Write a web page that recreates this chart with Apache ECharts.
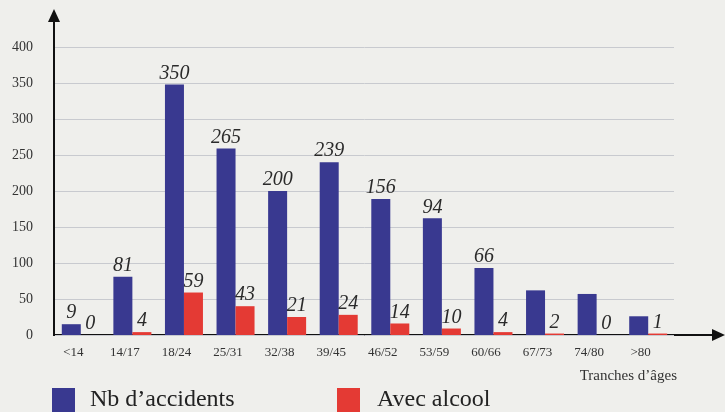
<!DOCTYPE html>
<html>
<head>
<meta charset="utf-8">
<script src="https://cdn.jsdelivr.net/npm/echarts@6/dist/echarts.min.js"></script>
<style>
html,body{margin:0;padding:0;background:#efefec;}
#chart{width:725px;height:412px;}
</style>
</head>
<body>
<div id="chart"></div>
<script>
const categories = ['<14','14/17','18/24','25/31','32/38','39/45','46/52','53/59','60/66','67/73','74/80','>80'];
const accidents = [15, 81, 348, 259, 200, 240, 189, 162, 93, 62, 57, 26];
const alcool = [0, 4, 59, 40, 25, 28, 16, 9, 4, 2, 0, 2];
const accidentsLabels = ['9','81','350','265','200','239','156','94','66','','',''];
const alcoolLabels = ['0','4','59','43','21','24','14','10','4','2','0','1'];
const yTicks = [0, 50, 100, 150, 200, 250, 300, 350, 400];

const serif = '"Liberation Serif","DejaVu Serif",serif';
const chart = echarts.init(document.getElementById('chart'));
const barLabel = (arr) => ({
  show: true, position: 'top', distance: 1,
  fontFamily: serif, fontStyle: 'italic', fontSize: 20, color: '#2a2a2a',
  formatter: p => arr[p.dataIndex]
});
chart.setOption({
  backgroundColor: '#efefec',
  animation: false,
  grid: {left: 55, right: 51, top: 47, bottom: 77},
  legend: [
    {data: ['Nb d\u2019accidents'], left: 52, top: 388, padding: 0, itemWidth: 23, itemHeight: 24, itemGap: 0, icon: 'rect',
     textStyle: {fontFamily: serif, fontSize: 24, color: '#222', padding: [0, 0, 0, 10]}},
    {data: ['Avec alcool'], left: 337, top: 388, padding: 0, itemWidth: 23, itemHeight: 24, itemGap: 0, icon: 'rect',
     textStyle: {fontFamily: serif, fontSize: 24, color: '#222', padding: [0, 0, 0, 12]}}
  ],
  xAxis: {
    type: 'category', data: categories,
    name: 'Tranches d\u2019âges', nameLocation: 'end', nameGap: 3,
    nameTextStyle: {fontFamily: serif, fontSize: 15, color: '#333', align: 'right', verticalAlign: 'top', padding: [34, 0, 0, 0]},
    axisLine: {show: false}, axisTick: {show: false},
    axisLabel: {fontFamily: serif, fontSize: 13, color: '#333', margin: 11, padding: [0, 15, 0, 0], interval: 0}
  },
  yAxis: {
    type: 'value', min: yTicks[0], max: yTicks[yTicks.length - 1], interval: 50,
    axisLine: {show: false}, axisTick: {show: false},
    axisLabel: {fontFamily: serif, fontSize: 14, color: '#333', margin: 22},
    splitLine: {lineStyle: {color: '#c8cacf', width: 1}}
  },
  series: [
    {name: 'Nb d\u2019accidents', type: 'bar', data: accidents, barWidth: 19, barGap: '0%',
     itemStyle: {color: '#393990'}, label: barLabel(accidentsLabels)},
    {name: 'Avec alcool', type: 'bar', data: alcool, barWidth: 19,
     itemStyle: {color: '#e43a34'}, label: barLabel(alcoolLabels)}
  ],
  graphic: [
    {type: 'line', shape: {x1: 54, y1: 336, x2: 54, y2: 20}, style: {stroke: '#111', lineWidth: 2}},
    {type: 'polygon', shape: {points: [[54, 9], [48, 22], [60, 22]]}, style: {fill: '#111'}},
    {type: 'line', shape: {x1: 53, y1: 335, x2: 714, y2: 335}, style: {stroke: '#111', lineWidth: 2}},
    {type: 'polygon', shape: {points: [[725, 335], [712, 329], [712, 341]]}, style: {fill: '#111'}}
  ]
});
</script>
</body>
</html>
